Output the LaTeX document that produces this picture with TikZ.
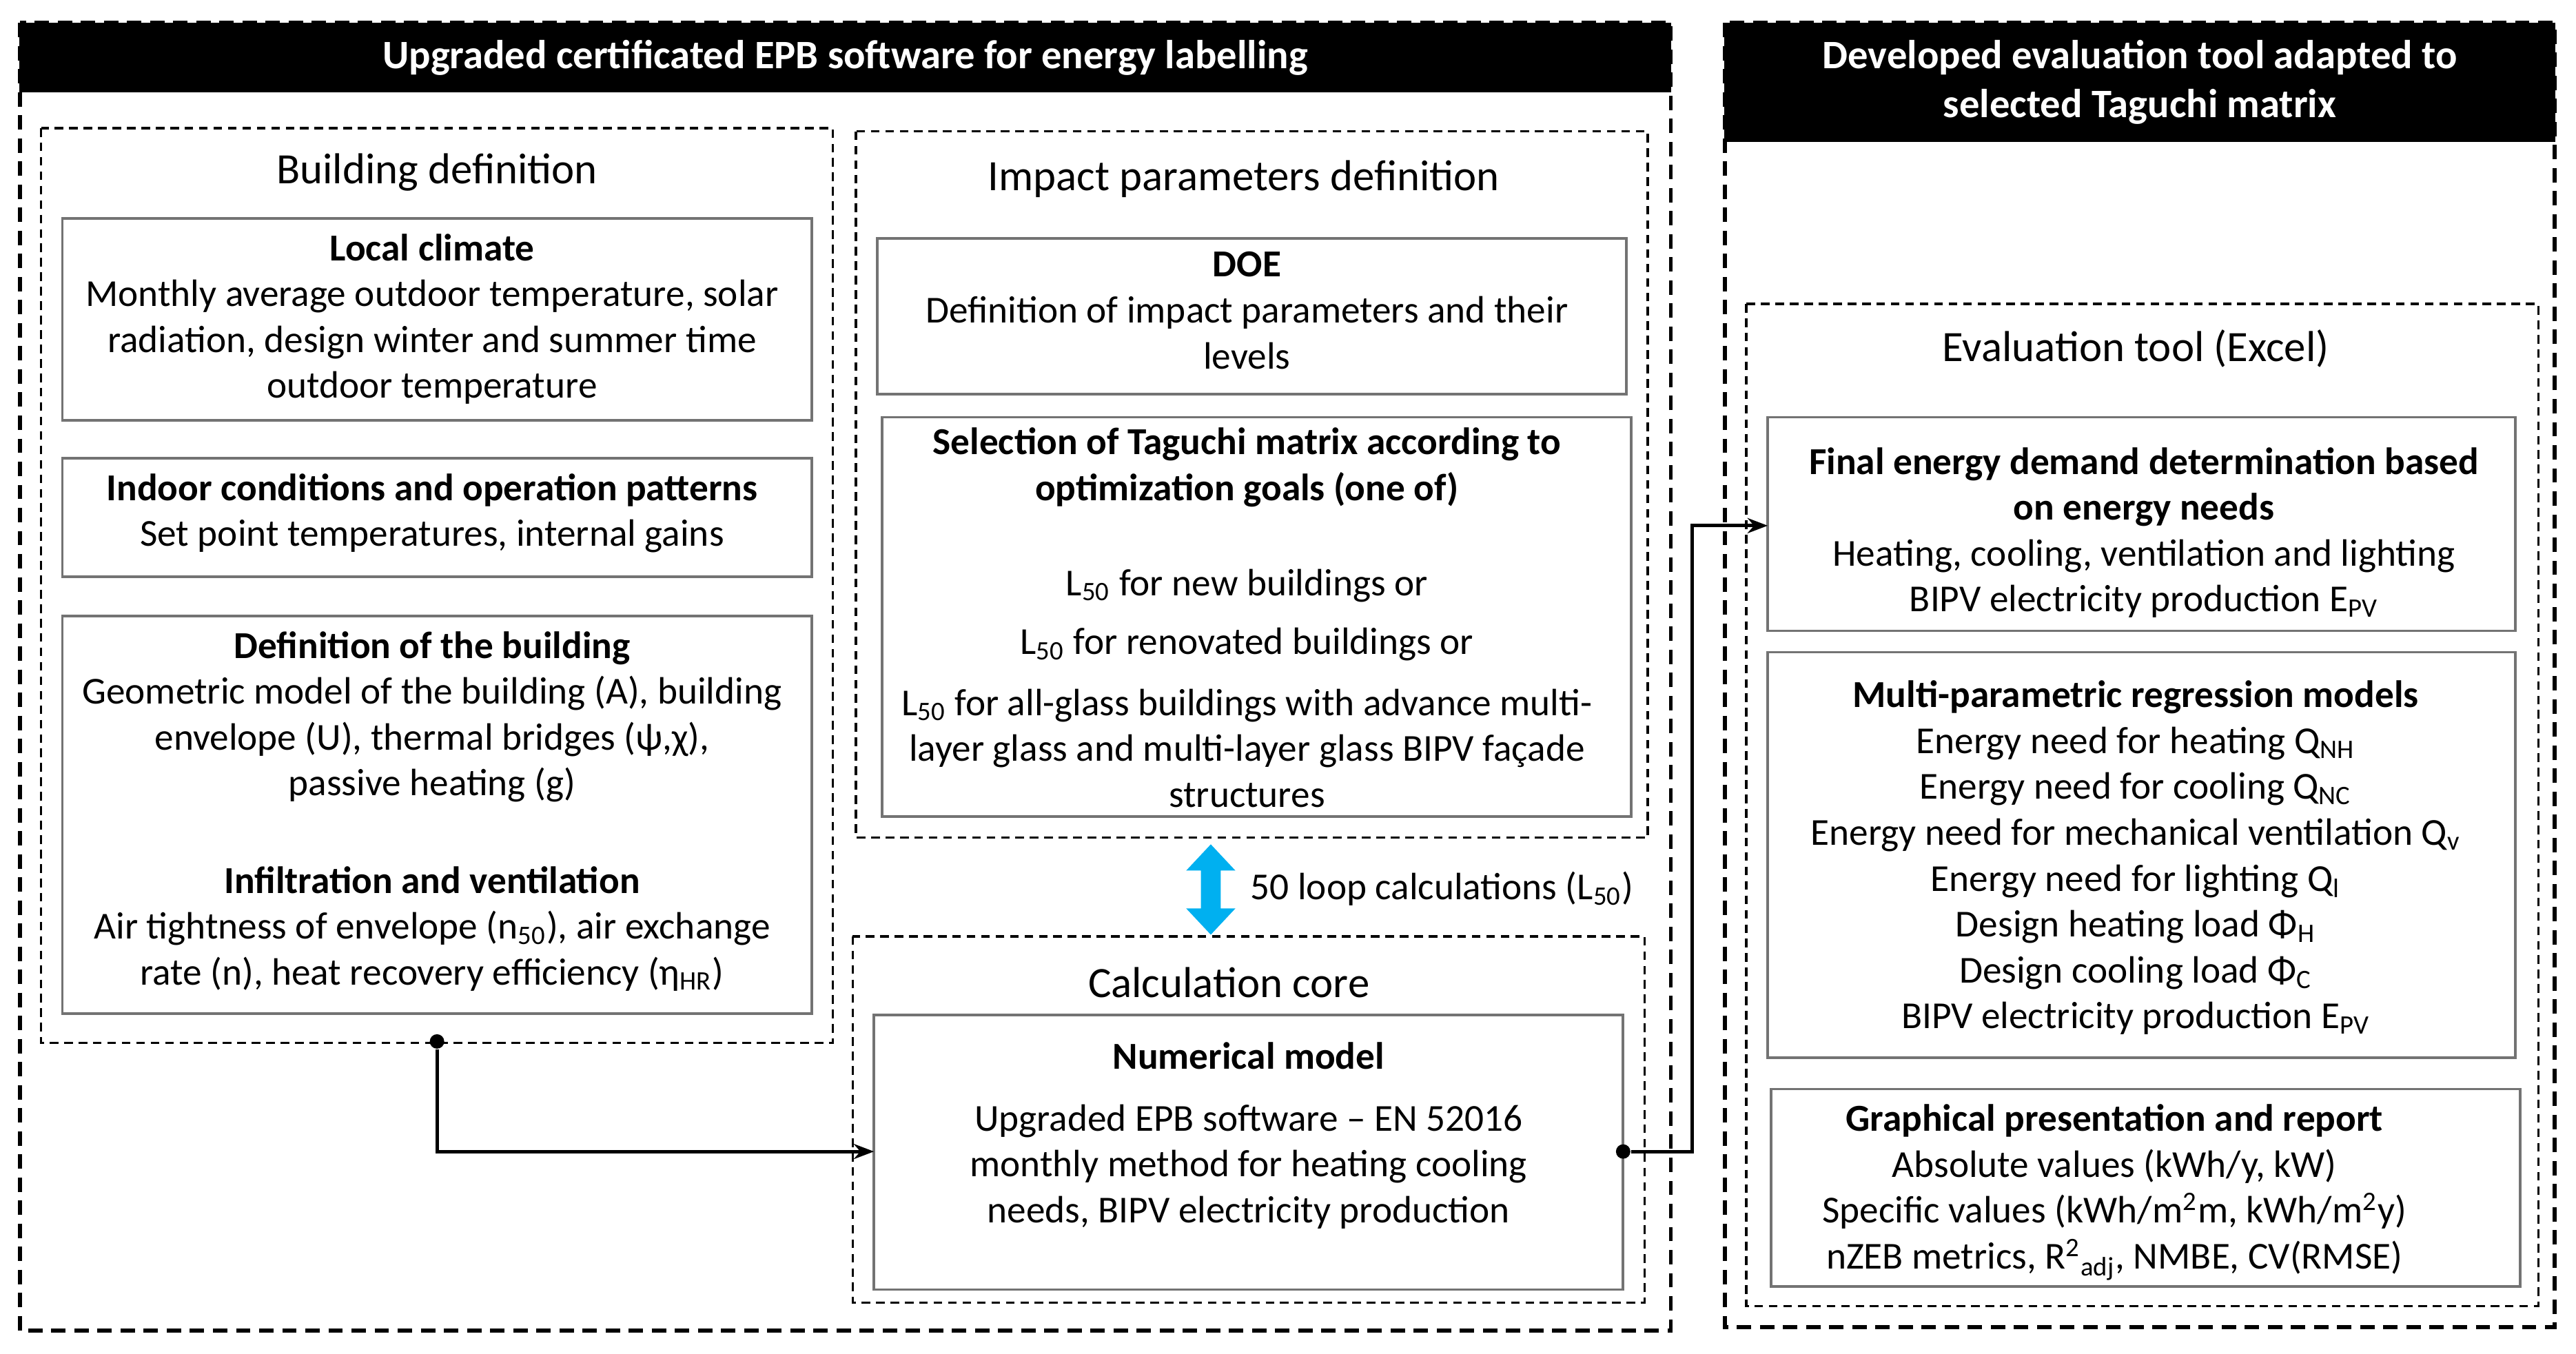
\documentclass[tikz,border=0pt]{standalone}
\usepackage{fontspec}
\setmainfont{Carlito}
\usetikzlibrary{arrows.meta}
\definecolor{lcyan}{HTML}{00B0F0}
\begin{document}
\begin{tikzpicture}[x=0.02cm,y=-0.02cm,
  outer/.style={draw=black,line width=1.4pt,dash pattern=on 5pt off 3pt},
  dbox/.style={draw=black,line width=0.8pt,dash pattern=on 3pt off 2pt},
  sbox/.style={draw=black!55,line width=0.9pt},
  hdr/.style={fill=black,draw=black},
  htxt/.style={text=white,font=\fontsize{14}{17}\selectfont\bfseries,align=center},
  ttl/.style={font=\fontsize{15}{17}\selectfont,align=center},
  txt/.style={font=\fontsize{13.2}{15.9}\selectfont,align=center,anchor=north,inner sep=0pt},
  conn/.style={line width=1.2pt,-{Stealth[length=7pt]}},
  dot/.style={circle,fill=black,inner sep=0pt,minimum size=5pt}]
\useasboundingbox (0,0) rectangle (1568,824);
% outer boxes
\draw[outer] (12,14) rectangle (1017,810);
\draw[hdr] (12,14) rectangle (1017,56);
\node[htxt] (h1) at (514.5,35) {Upgraded certificated EPB software for energy labelling};
\draw[outer] (1050,14) rectangle (1555,808);
\draw[hdr] (1050,14) rectangle (1555,86);
\node[htxt] (h2) at (1302.5,50) {Developed evaluation tool adapted to\\selected Taguchi matrix};
% building definition
\draw[dbox] (25,78) rectangle (507,635);
\node[ttl] (bd) at (266,105) {Building definition};
\draw[sbox] (38,133) rectangle (494,256);
\node[txt] (lc) at (263,142) {\textbf{Local climate}\\Monthly average outdoor temperature, solar\\radiation, design winter and summer time\\outdoor temperature};
\draw[sbox] (38,279) rectangle (494,351);
\node[txt] (ic) at (263,288) {\textbf{Indoor conditions and operation patterns}\\Set point temperatures, internal gains};
\draw[sbox] (38,375) rectangle (494,617);
\node[txt] (db) at (263,384) {\textbf{Definition of the building}\\Geometric model of the building (A), building\\envelope (U), thermal bridges (ψ,χ),\\passive heating (g)};
\node[txt] (iv) at (263,527) {\textbf{Infiltration and ventilation}\\Air tightness of envelope (n\textsubscript{50}), air exchange\\rate (n), heat recovery efficiency (η\textsubscript{HR})};
% impact parameters
\draw[dbox] (521,80) rectangle (1003,510);
\node[ttl] (ip) at (757,109) {Impact parameters definition};
\draw[sbox] (534,145) rectangle (990,240);
\node[txt] (doe) at (759,153) {\textbf{DOE}\\Definition of impact parameters and their\\levels};
\draw[sbox] (537,254) rectangle (993,497);
\node[txt] (sel) at (759,260) {\textbf{Selection of Taguchi matrix according to}\\\textbf{optimization goals (one of)}};
\node[txt] (l1) at (759,346) {L\textsubscript{50} for new buildings or};
\node[txt] (l2) at (759,382) {L\textsubscript{50} for renovated buildings or};
\node[txt] (l3) at (759,419) {L\textsubscript{50} for all-glass buildings with advance multi-\\layer glass and multi-layer glass BIPV façade\\structures};
% loop arrow
\draw[draw=none,fill=lcyan] (737,514) -- (752,530) -- (743,530) -- (743,553) -- (752,553) -- (737,569) -- (722,553) -- (731,553) -- (731,530) -- (722,530) -- cycle;
\node[font=\fontsize{13.2}{15}\selectfont,anchor=west] (loop) at (755,541) {50 loop calculations (L\textsubscript{50})};
% calculation core
\draw[dbox] (519,570) rectangle (1001,793);
\node[ttl] (cc) at (748,598) {Calculation core};
\draw[sbox] (532,618) rectangle (988,785);
\node[coordinate] (nmw) at (532,701) {};
\node[txt] (nm) at (760,634) {\textbf{Numerical model}};
\node[txt] (nmt) at (760,672) {Upgraded EPB software – EN 52016\\monthly method for heating cooling\\needs, BIPV electricity production};
% evaluation tool
\draw[dbox] (1063,185) rectangle (1545,795);
\node[ttl] (et) at (1300,212) {Evaluation tool (Excel)};
\draw[sbox] (1076,254) rectangle (1531,384);
\node[coordinate] (few) at (1076,320) {};
\node[txt] (fe) at (1305,272) {\textbf{Final energy demand determination based}\\\textbf{on energy needs}\\Heating, cooling, ventilation and lighting\\BIPV electricity production E\textsubscript{PV}};
\draw[sbox] (1076,397) rectangle (1531,644);
\node[txt] (mp) at (1300,414) {\textbf{Multi-parametric regression models}\\Energy need for heating Q\textsubscript{NH}\\Energy need for cooling Q\textsubscript{NC}\\Energy need for mechanical ventilation Q\textsubscript{v}\\Energy need for lighting Q\textsubscript{l}\\Design heating load Φ\textsubscript{H}\\Design cooling load Φ\textsubscript{C}\\BIPV electricity production E\textsubscript{PV}};
\draw[sbox] (1078,663) rectangle (1534,783);
\node[txt] (gp) at (1287,672) {\textbf{Graphical presentation and report}\\Absolute values (kWh/y, kW)\\Specific values (kWh/m\textsuperscript{2}m, kWh/m\textsuperscript{2}y)\\nZEB metrics, R\textsuperscript{2}\textsubscript{adj}, NMBE, CV(RMSE)};
% connectors
\node[dot] (d1) at (266,634) {};
\node[dot] (d2) at (988,701) {};
\draw[conn] (d1) |- (nmw);
\draw[conn] (d2) -- (1030,701) |- (few);
\end{tikzpicture}
\end{document}
